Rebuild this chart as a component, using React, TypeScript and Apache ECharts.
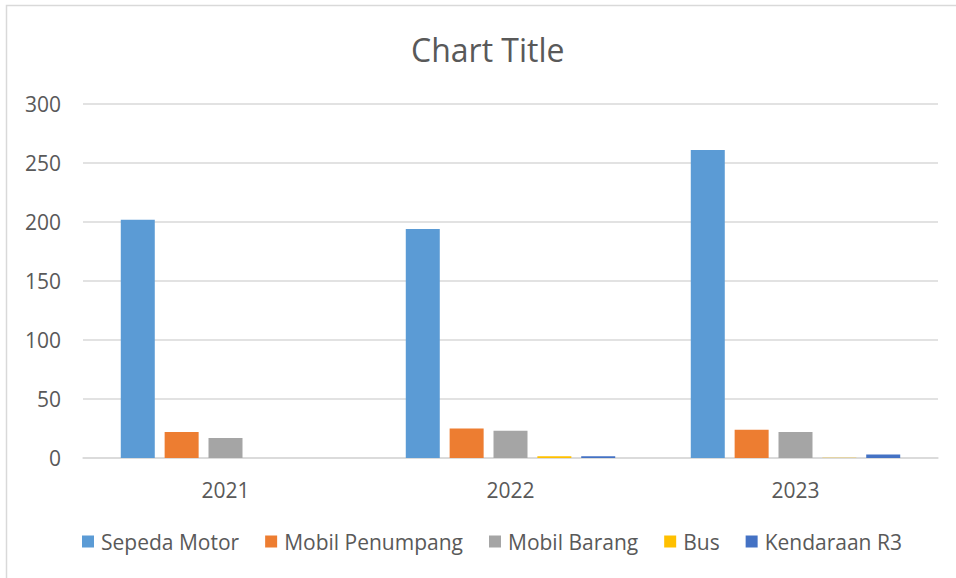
import React, { useEffect, useRef } from "react";
import * as echarts from "echarts";

const categories = ["2021", "2022", "2023"];
const seriesNames = ["Sepeda Motor", "Mobil Penumpang", "Mobil Barang", "Bus", "Kendaraan R3"];
const sepedaMotor = [202, 194, 261];
const mobilPenumpang = [22, 25, 24];
const mobilBarang = [17, 23, 22];
const bus = [0, 1.5, 0.3];
const kendaraanR3 = [0, 1.5, 3];
const yTicks = { min: 0, max: 300, interval: 50 };
const colors = ["#5B9BD5", "#ED7D31", "#A5A5A5", "#FFC000", "#4472C4"];

const FONT = "'Open Sans', sans-serif";

export default function App() {
  const ref = useRef<HTMLDivElement>(null);
  useEffect(() => {
    const chart = echarts.init(ref.current!, null, { renderer: "svg" });
    const values = [sepedaMotor, mobilPenumpang, mobilBarang, bus, kendaraanR3];
    chart.setOption({
      animation: false,
      backgroundColor: "#ffffff",
      textStyle: { fontFamily: FONT },
      title: {
        text: "Chart Title",
        left: 406,
        top: 28,
        textStyle: { fontFamily: FONT, fontSize: 32, fontWeight: "normal", color: "#595959" },
      },
      graphic: [
        {
          type: "rect",
          shape: { x: 6.5, y: 5.5, width: 960, height: 600 },
          style: { fill: "none", stroke: "#d9d9d9", lineWidth: 1.5 },
          silent: true,
        },
      ],
      legend: {
        bottom: 21,
        left: 77,
        itemWidth: 12,
        itemHeight: 12,
        itemGap: 26,
        icon: "rect",
        textStyle: { fontFamily: FONT, fontSize: 21, color: "#595959", padding: [0, 0, 0, 2] },
        data: seriesNames,
      },
      grid: { left: 83, right: 18, top: 104, bottom: 120, containLabel: false },
      xAxis: {
        type: "category",
        data: categories,
        axisLine: { lineStyle: { color: "#d9d9d9", width: 1.5 } },
        axisTick: { show: false },
        axisLabel: { fontFamily: FONT, fontSize: 21, color: "#595959", margin: 21 },
      },
      yAxis: {
        type: "value",
        min: yTicks.min,
        max: yTicks.max,
        interval: yTicks.interval,
        axisLine: { show: false },
        axisTick: { show: false },
        splitLine: { lineStyle: { color: "#d9d9d9", width: 1.5 } },
        axisLabel: { fontFamily: FONT, fontSize: 21, color: "#595959", margin: 22 },
      },
      series: seriesNames.map((name, i) => ({
        name,
        type: "bar",
        data: values[i],
        barWidth: 34,
        barGap: "29%",
        itemStyle: { color: colors[i] },
      })),
    });
    return () => chart.dispose();
  }, []);
  return (
    <div
      ref={ref}
      style={{ position: "absolute", left: 0, top: 0, width: 956, height: 578 }}
    />
  );
}
